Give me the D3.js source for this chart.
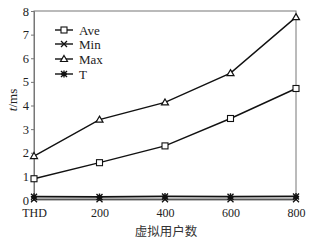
<!DOCTYPE html>
<html><head><meta charset="utf-8">
<script src="https://cdn.jsdelivr.net/npm/d3@7"></script>
<style>body{margin:0;background:#fff}svg{display:block}</style>
</head><body>
<script>
const categories = ["THD","200","400","600","800"];
const aveValues = [0.9, 1.58, 2.29, 3.45, 4.72];
const minValues = [0.03, 0.03, 0.03, 0.03, 0.03];
const maxValues = [1.86, 3.4, 4.13, 5.37, 7.74];
const tValues = [0.14, 0.13, 0.15, 0.14, 0.15];
const yTicks = [0,1,2,3,4,5,6,7,8];
const seriesNames = ["Ave","Min","Max","T"];

const W=331,H=245;
const svg=d3.select("body").append("svg").attr("width",W).attr("height",H);
const L=34,R=296,T=11,B=200;
const x=d3.scalePoint().domain(categories).range([L,R]);
const y=d3.scaleLinear().domain([0,8]).range([B,T]);
const font="'Liberation Serif', 'Times New Roman', serif";
const gray="#777";

svg.append("rect").attr("x",L).attr("y",T).attr("width",R-L).attr("height",B-T)
  .attr("fill","none").attr("stroke",gray).attr("stroke-width",1);

const ya=svg.append("g").attr("transform",`translate(${L},0)`)
  .call(d3.axisLeft(y).tickValues(yTicks).tickSize(3).tickPadding(2).tickFormat(d3.format("d")));
ya.select(".domain").attr("stroke",gray);
ya.selectAll(".tick line").attr("stroke",gray);
ya.selectAll("text").style("font-family",font).attr("font-size",12.5).attr("fill","#222");

const xa=svg.append("g").attr("transform",`translate(0,${B})`)
  .call(d3.axisBottom(x).tickSize(0).tickPadding(8.5));
xa.select(".domain").remove();
xa.selectAll("text").style("font-family",font).attr("font-size",12).attr("fill","#222");

svg.append("text").attr("x",166).attr("y",235.5).attr("text-anchor","middle")
  .style("font-family","'Noto Sans CJK SC'").attr("font-size",12.5).attr("fill","#333").text("虚拟用户数");
const yl=svg.append("text").attr("transform","translate(17,100) rotate(-90)").attr("text-anchor","middle")
  .style("font-family",font).attr("font-size",13).attr("fill","#222");
yl.append("tspan").attr("font-style","italic").text("t");
yl.append("tspan").text("/ms");

const line=d3.line().x((d,i)=>x(categories[i])).y(d=>y(d));

function marker(g,type,cx,cy){
  if(type==="Ave"){
    g.append("rect").attr("x",cx-3).attr("y",cy-3).attr("width",6).attr("height",6)
      .attr("fill","#fff").attr("stroke","#111").attr("stroke-width",1.1);
  } else if(type==="Max"){
    g.append("path").attr("d",`M${cx},${cy-3.5}L${cx+3.5},${cy+2.5}L${cx-3.5},${cy+2.5}Z`)
      .attr("fill","#fff").attr("stroke","#111").attr("stroke-width",1.2);
  } else if(type==="Min"){
    g.append("path").attr("d",`M${cx-3},${cy-3}L${cx+3},${cy+3}M${cx-3},${cy+3}L${cx+3},${cy-3}`)
      .attr("stroke","#111").attr("stroke-width",1.3);
  } else {
    g.append("path").attr("d",`M${cx-3},${cy-3}L${cx+3},${cy+3}M${cx-3},${cy+3}L${cx+3},${cy-3}M${cx},${cy-3.5}L${cx},${cy+3.5}M${cx-3},${cy}L${cx+3},${cy}`)
      .attr("stroke","#111").attr("stroke-width",1.4);
  }
}

const data={Ave:aveValues,Min:minValues,Max:maxValues,T:tValues};
const order=["Min","T","Ave","Max"];
order.forEach(name=>{
  const vals=data[name];
  const g=svg.append("g");
  g.append("path").datum(vals).attr("d",line).attr("fill","none")
    .attr("stroke", name==="Min" ? "#555" : "#111").attr("stroke-width", name==="T"?1.8:1.4);
  vals.forEach((v,i)=>marker(g,name,x(categories[i]),y(v)));
});

const legY=[30,44,59,74];
seriesNames.forEach((name,i)=>{
  const g=svg.append("g");
  g.append("line").attr("x1",55).attr("x2",73).attr("y1",legY[i]).attr("y2",legY[i])
    .attr("stroke","#111").attr("stroke-width",1.4);
  marker(g,name,64,legY[i]);
  g.append("text").attr("x",79).attr("y",legY[i]+4.5).style("font-family",font)
    .attr("font-size",13).attr("fill","#222").text(name);
});
</script>
</body></html>
